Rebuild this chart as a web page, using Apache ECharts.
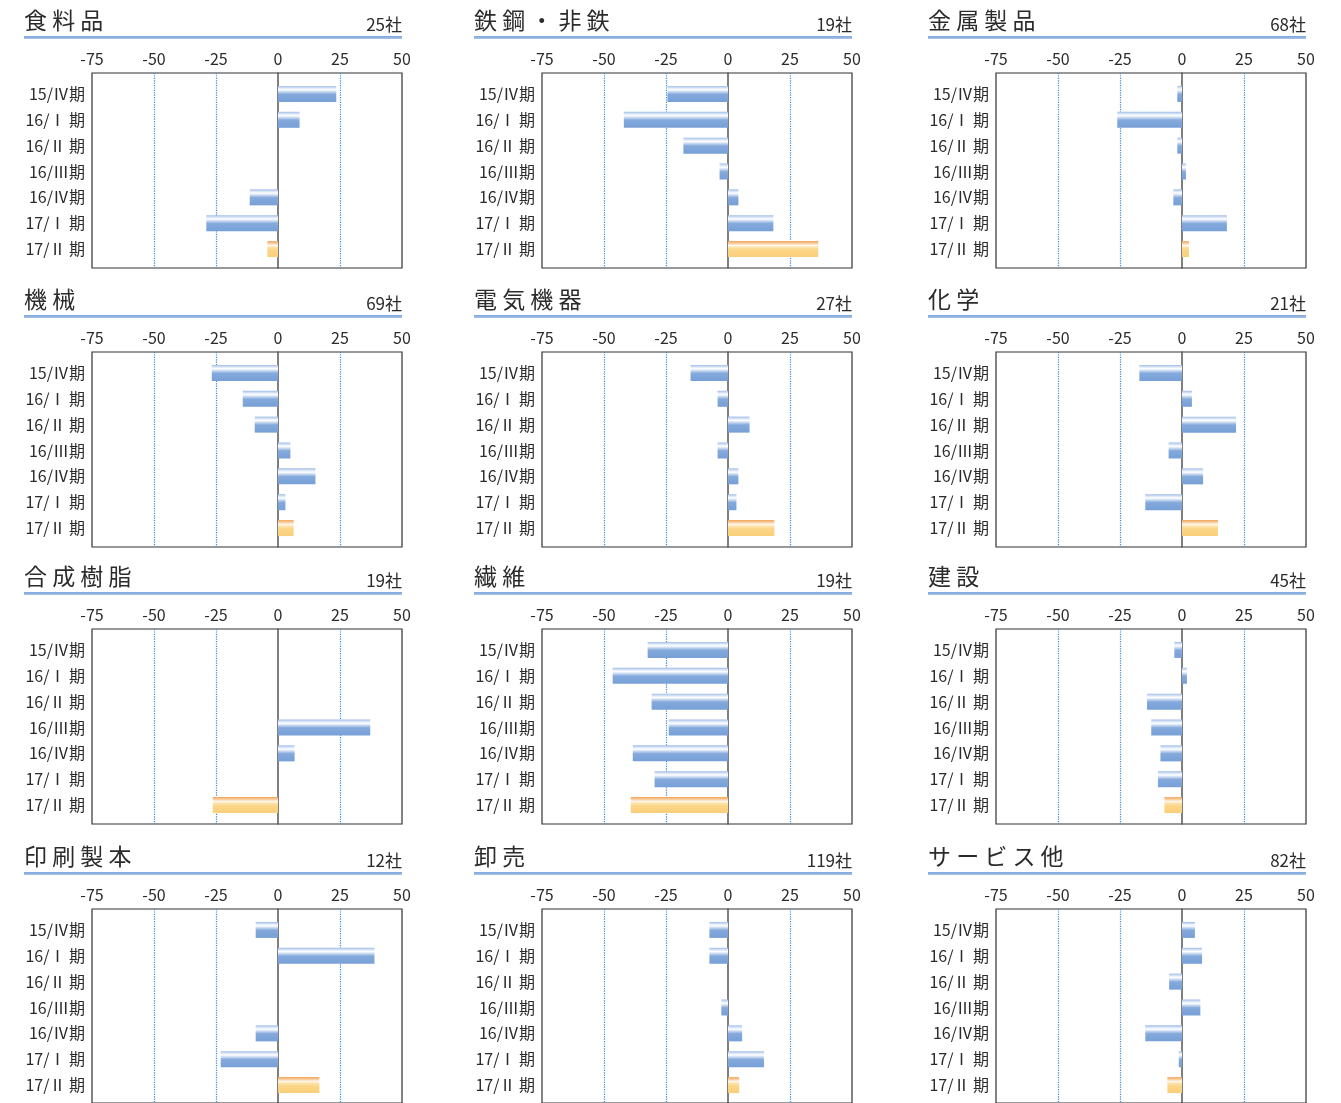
<!DOCTYPE html>
<html>
<head>
<meta charset="utf-8">
<script src="https://cdn.jsdelivr.net/npm/echarts@6/dist/echarts.min.js"></script>
<style>
html,body{margin:0;padding:0;background:#fff;}
#chart{width:1341px;height:1103px;}
</style>
</head>
<body>
<div id="chart"></div>
<script>
// ---- data ----
const categories = ['15/Ⅳ期', '16/Ⅰ 期', '16/Ⅱ 期', '16/Ⅲ期', '16/Ⅳ期', '17/Ⅰ 期', '17/Ⅱ 期'];
const xTicks = [-75, -50, -25, 0, 25, 50];
const sectors = ['食料品', '鉄鋼・非鉄', '金属製品', '機械', '電気機器', '化学', '合成樹脂', '繊維', '建設', '印刷製本', '卸売', 'サービス他'];
const companyCounts = ['25社', '19社', '68社', '69社', '27社', '21社', '19社', '19社', '45社', '12社', '119社', '82社'];
const food = [23.5, 8.7, 0, 0, -11.4, -28.9, -4.3];
const steel = [-24.4, -42.0, -18.0, -3.4, 4.2, 18.3, 36.4];
const metal = [-1.9, -26.1, -1.9, 1.6, -3.5, 18.1, 2.8];
const machinery = [-26.7, -14.2, -9.4, 5.0, 15.1, 3.0, 6.3];
const electric = [-15.1, -4.2, 8.7, -4.2, 4.2, 3.4, 18.7];
const chemical = [-17.2, 4.0, 21.8, -5.4, 8.5, -14.8, 14.5];
const resin = [0, 0, 0, 37.2, 6.7, 0, -26.3];
const textile = [-32.4, -46.5, -30.8, -23.9, -38.4, -29.6, -39.2];
const construction = [-3.1, 2.0, -14.1, -12.4, -8.7, -9.7, -7.1];
const printing = [-9.0, 38.9, 0, 0, -9.0, -23.1, 16.7];
const wholesale = [-7.5, -7.5, 0, -2.7, 5.7, 14.5, 4.5];
const services = [5.2, 8.1, -5.2, 7.4, -14.8, -1.3, -5.9];

const seriesValues = [food, steel, metal, machinery, electric, chemical, resin, textile, construction, printing, wholesale, services];

// ---- layout ----
const colTitleLeft = [24, 474, 928];
const colPlotLeft = [92, 542, 996];
const plotW = 310;
const rowPlotTop = [73, 352, 629, 909];
const plotH = 195;
const FONT = '"Noto Sans CJK JP", "Noto Sans", sans-serif';
const TXT = '#2b2b2b';

const blueGrad = new echarts.graphic.LinearGradient(0, 0, 0, 1, [
  {offset: 0, color: '#9dbbe6'},
  {offset: 0.12, color: '#d6e3f5'},
  {offset: 0.24, color: '#ffffff'},
  {offset: 0.36, color: '#c9daf1'},
  {offset: 0.52, color: '#84a9dc'},
  {offset: 1, color: '#77a0d7'}
]);
const orangeGrad = new echarts.graphic.LinearGradient(0, 0, 0, 1, [
  {offset: 0, color: '#f2a55a'},
  {offset: 0.14, color: '#f8cc9c'},
  {offset: 0.27, color: '#fff7ec'},
  {offset: 0.4, color: '#fde2aa'},
  {offset: 0.56, color: '#fbd586'},
  {offset: 1, color: '#f9cf7b'}
]);

const grids = [], xAxes = [], yAxes = [], series = [], graphics = [];

sectors.forEach((name, i) => {
  const col = i % 3, row = Math.floor(i / 3);
  const left = colPlotLeft[col], top = rowPlotTop[row];
  // frame grid
  const gA = grids.length;
  grids.push({left: left, top: top, width: plotW, height: plotH, show: true, borderColor: '#333', borderWidth: 1.2, backgroundColor: 'transparent'});
  xAxes.push({
    gridIndex: gA, type: 'value', position: 'top',
    min: xTicks[0], max: xTicks[xTicks.length - 1], interval: 25,
    axisLine: {show: false}, axisTick: {show: false},
    axisLabel: {show: true, margin: 6, fontSize: 16, color: TXT, fontFamily: FONT},
    splitLine: {show: true, lineStyle: {type: 'dotted', width: 1.2,
      color: ['rgba(0,0,0,0)', '#3a8bd6', '#3a8bd6', 'rgba(0,0,0,0)', '#3a8bd6', 'rgba(0,0,0,0)']}}
  });
  yAxes.push({
    gridIndex: gA, type: 'category', data: categories,
    axisLine: {show: true, onZero: true, lineStyle: {color: '#555', width: 1.5}},
    axisTick: {show: false}, axisLabel: {show: false}, splitLine: {show: false}
  });
  // bar grid
  const gB = grids.length;
  grids.push({left: left, top: top + 8, width: plotW, height: 181, show: false});
  xAxes.push({gridIndex: gB, type: 'value', min: xTicks[0], max: xTicks[xTicks.length - 1], interval: 25, show: false, splitLine: {show: false}});
  yAxes.push({
    gridIndex: gB, type: 'category', data: categories, inverse: true,
    axisLine: {show: false}, axisTick: {show: false},
    axisLabel: {show: true, margin: 7, fontSize: 16, color: TXT, fontFamily: FONT}
  });
  series.push({
    type: 'bar', xAxisIndex: gB, yAxisIndex: gB, barWidth: 16, z: 3,
    silent: true,
    data: seriesValues[i].map((v, k) => ({value: v, itemStyle: {color: k === categories.length - 1 ? orangeGrad : blueGrad}}))
  });
  // title, count, underline
  const tl = colTitleLeft[col];
  graphics.push({
    type: 'text', x: tl, y: top - 53,
    style: {text: name.split('').join(' '), font: '23px ' + FONT, fill: TXT, align: 'left', verticalAlign: 'middle', textAlign: 'left', textVerticalAlign: 'middle'}
  });
  graphics.push({
    type: 'text', x: left + plotW, y: top - 48,
    style: {text: companyCounts[i], font: '17px ' + FONT, fill: TXT, align: 'right', verticalAlign: 'middle', textAlign: 'right', textVerticalAlign: 'middle'}
  });
  graphics.push({
    type: 'rect', shape: {x: tl, y: top - 37, width: left + plotW - tl, height: 3},
    style: {fill: new echarts.graphic.LinearGradient(0, 0, 0, 1, [{offset: 0, color: '#7ea6dc'}, {offset: 1, color: '#a9c3ea'}])}
  });
});

const chart = echarts.init(document.getElementById('chart'));
chart.setOption({
  animation: false,
  textStyle: {fontFamily: FONT},
  grid: grids, xAxis: xAxes, yAxis: yAxes, series: series,
  graphic: graphics
});
</script>
</body>
</html>
